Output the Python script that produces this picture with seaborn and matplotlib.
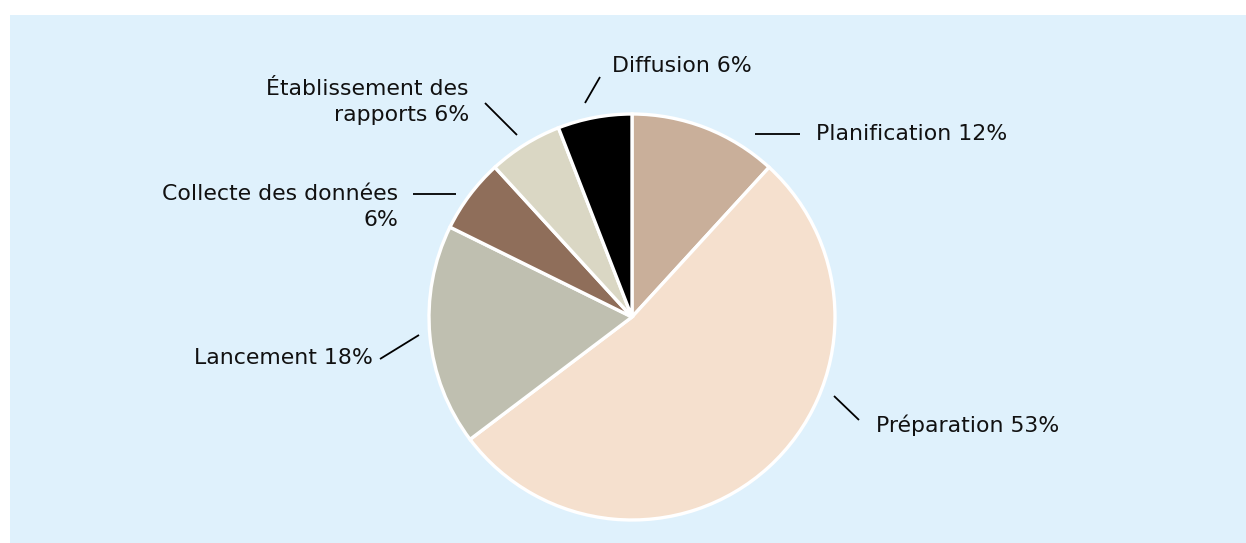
import matplotlib
matplotlib.use("Agg")
import matplotlib.pyplot as plt
import seaborn as sns
from matplotlib.patches import Rectangle

# Data (clockwise from top)
categories = ["Planification", "Préparation", "Lancement",
              "Collecte des données", "Établissement des rapports", "Diffusion"]
values = [11.8, 52.9, 17.6, 5.9, 5.9, 5.9]
label_texts = ["Planification 12%", "Préparation 53%", "Lancement 18%",
               "Collecte des données\n6%", "Établissement des\nrapports 6%", "Diffusion 6%"]
colors = ["#C9AF9A", "#F5E0CE", "#BFBFB0", "#8F6E5A", "#DAD7C4", "#000000"]

sns.set_style("white")
plt.rcParams["font.family"] = ["DejaVu Sans"]

W, H = 1246, 543
fig = plt.figure(figsize=(W / 100, H / 100), dpi=100)
ax = fig.add_axes([0, 0, 1, 1])
ax.set_xlim(0, W)
ax.set_ylim(0, H)
ax.set_aspect("equal")
ax.axis("off")

def Y(py):
    return H - py

ax.add_patch(Rectangle((10, 0), W - 10, H - 15, facecolor="#DFF1FC", edgecolor="none", zorder=0))

palette = sns.color_palette(colors)
ax.pie(values, colors=palette, startangle=90, counterclock=False,
       center=(632, Y(317)), radius=203, frame=True,
       wedgeprops=dict(edgecolor="white", linewidth=2.4))
ax.set_xlim(0, W)
ax.set_ylim(0, H)
ax.axis("off")

fs = 15.8
# leader lines: (x1, y1, x2, y2) in pixels
leaders = {
    "Planification": (755, 134, 800, 134),
    "Préparation": (834, 396, 859, 420),
    "Lancement": (380, 359, 419, 335),
    "Collecte des données": (413, 194, 456, 194),
    "Établissement des rapports": (485, 103, 517, 135),
    "Diffusion": (585, 103, 600, 77),
}
texts = {
    "Planification": (816, 134, "left"),
    "Préparation": (876, 425, "left"),
    "Lancement": (373, 358, "right"),
    "Collecte des données": (398, 207, "right"),
    "Établissement des rapports": (469, 102, "right"),
    "Diffusion": (612, 66, "left"),
}
for cat, lab in zip(categories, label_texts):
    x1, y1, x2, y2 = leaders[cat]
    ax.plot([x1, x2], [Y(y1), Y(y2)], color="black", lw=1.3, solid_capstyle="butt")
    tx, ty, ha = texts[cat]
    ax.text(tx, Y(ty), lab, ha=ha, va="center", fontsize=fs, color="#111111",
            multialignment="right" if ha == "right" else "left", linespacing=1.34)

fig.savefig("out.png", dpi=100)
